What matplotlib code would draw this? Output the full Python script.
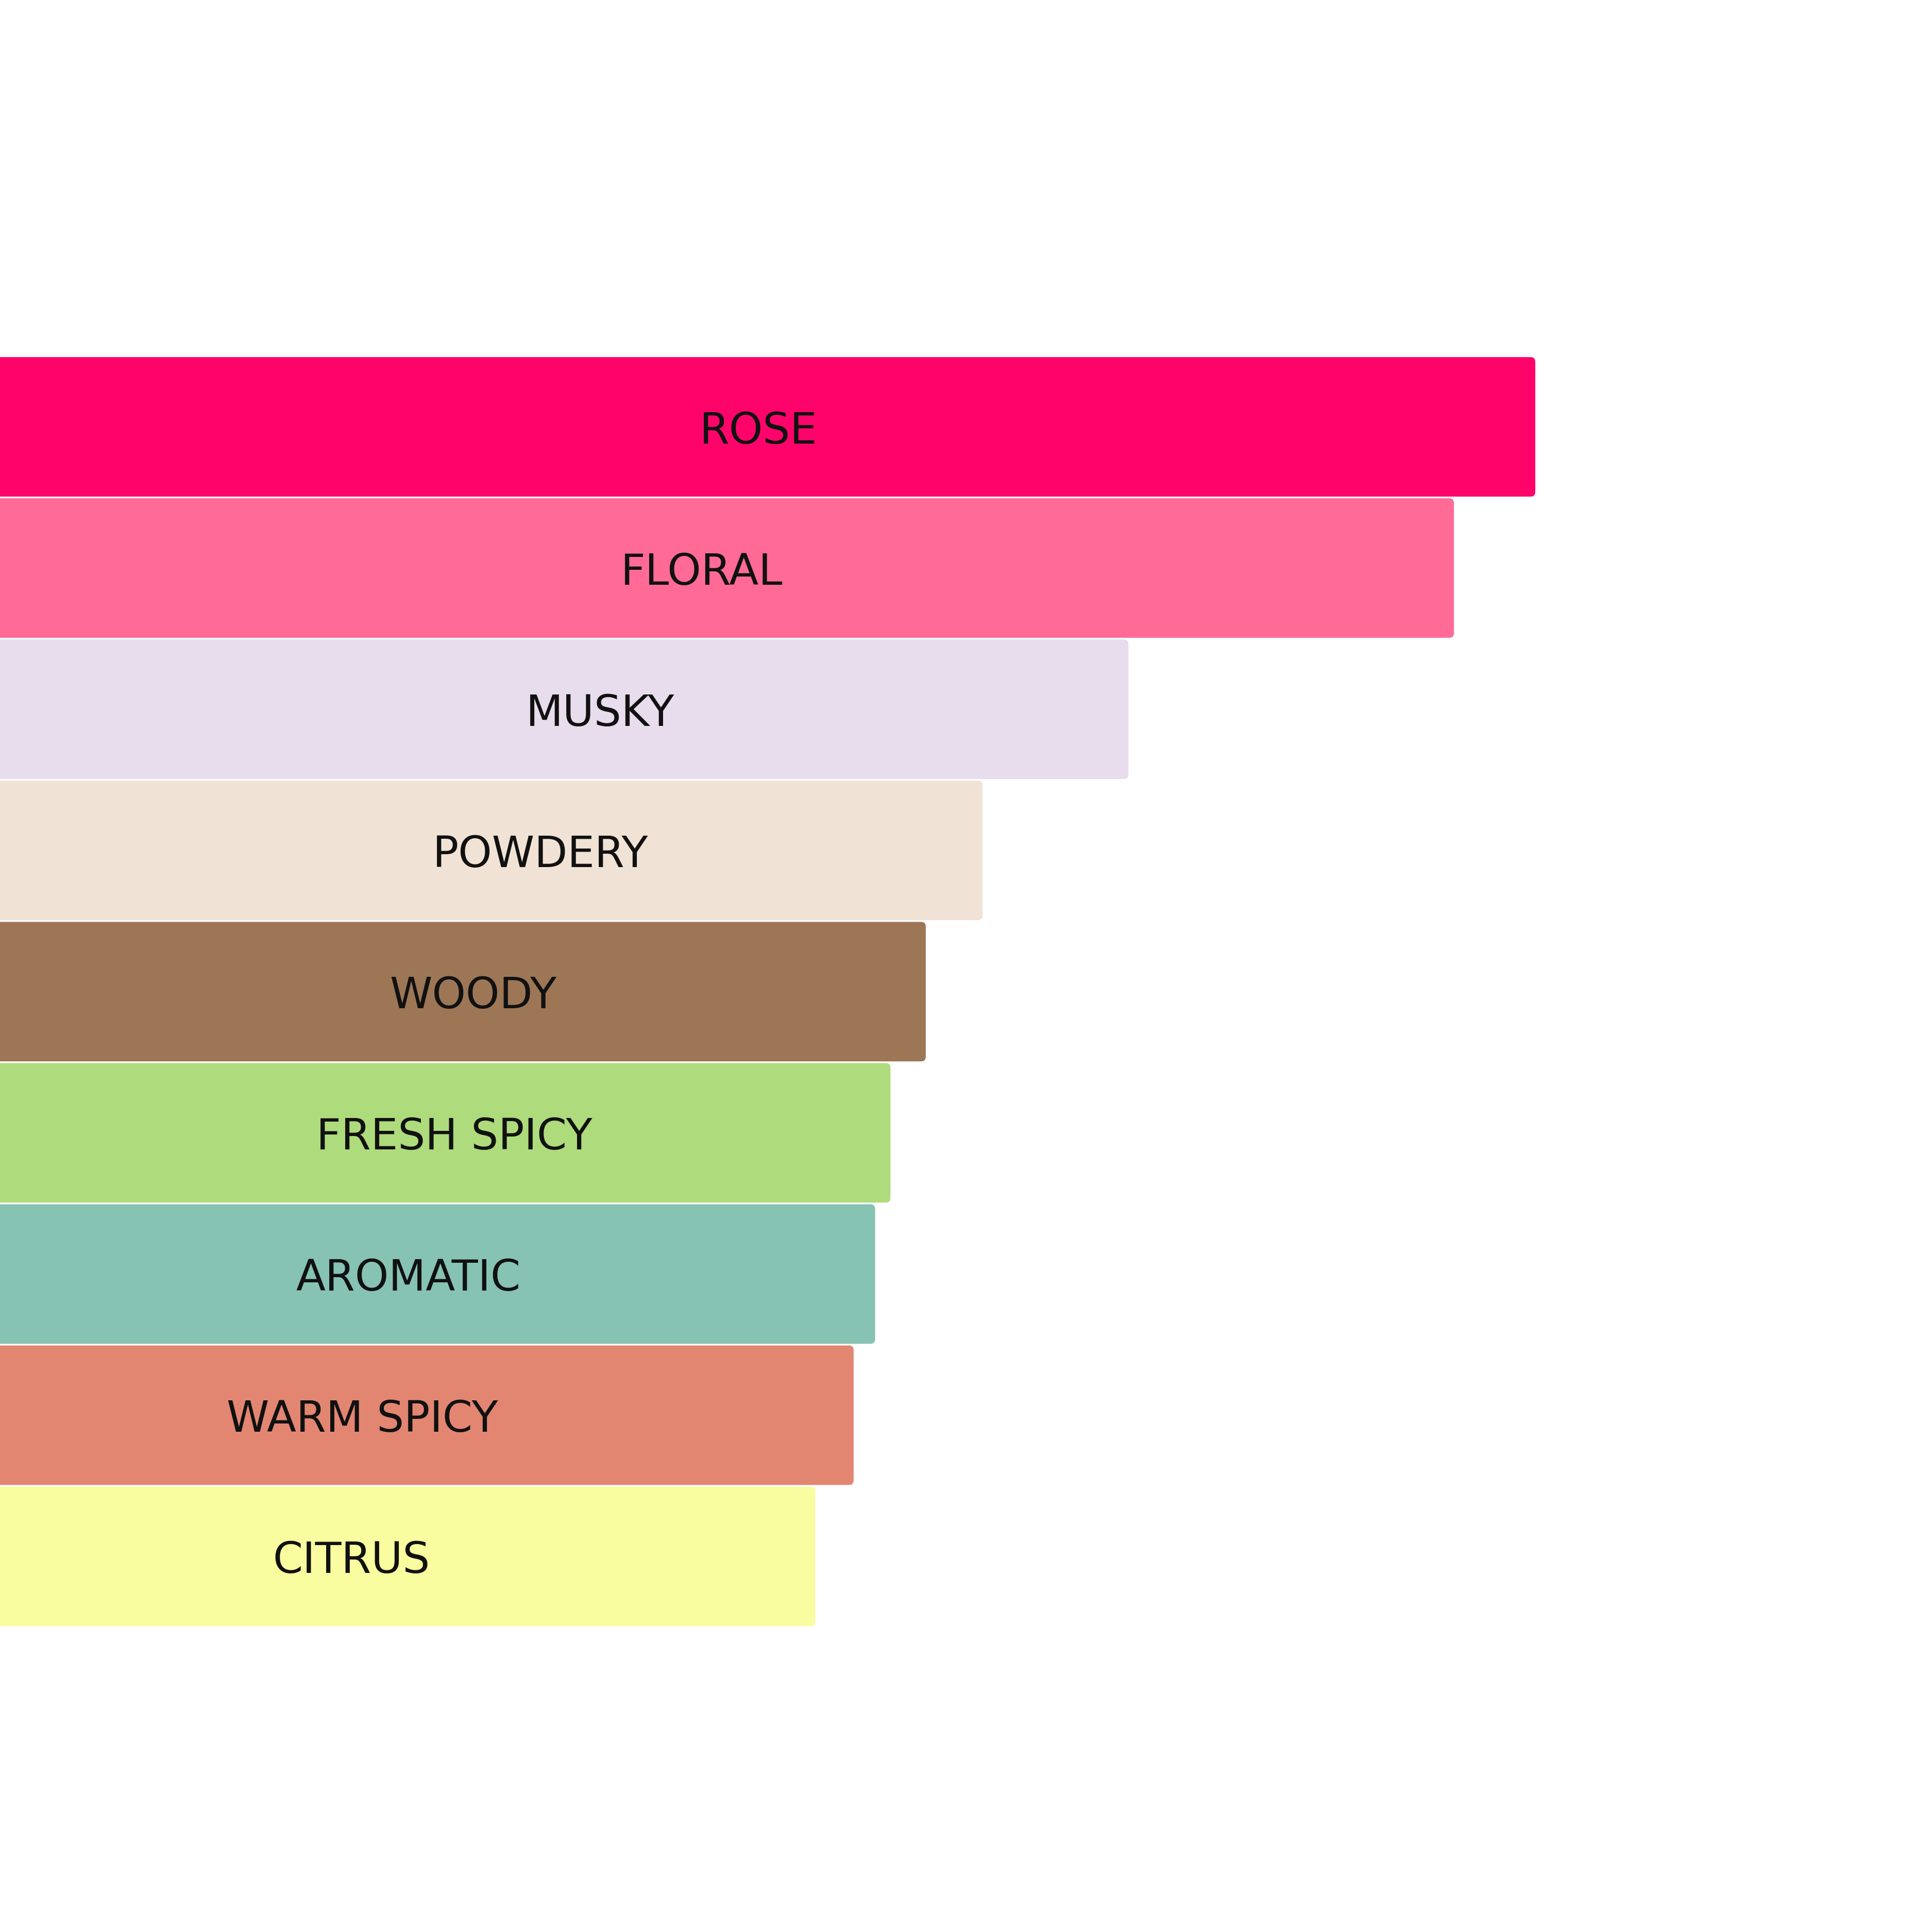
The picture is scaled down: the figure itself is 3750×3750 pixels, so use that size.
import matplotlib
matplotlib.use("Agg")
import matplotlib.pyplot as plt
from matplotlib.patches import FancyBboxPatch

# ---- data ----
accords = ["ROSE", "FLORAL", "MUSKY", "POWDERY", "WOODY",
           "FRESH SPICY", "AROMATIC", "WARM SPICY", "CITRUS"]
values = [100.0, 94.7, 73.5, 64.0, 60.3, 58.0, 57.0, 55.6, 53.1]
colors = ["#FE046A", "#FF6B96", "#E8DDEC", "#F0E3D6", "#9D7656",
          "#AEDB7C", "#86C3B2", "#E28672", "#F9FC9F"]
label_x = [49.4, 45.7, 39.1, 35.2, 30.8, 29.6, 26.6, 23.6, 22.9]

# ---- layout ----
W = H = 3750
dpi = 100
fig = plt.figure(figsize=(W / dpi, H / dpi), dpi=dpi)
fig.patch.set_facecolor("white")
ax = fig.add_axes([0, 0, 1, 1])
ax.set_axis_off()

px_per_unit_x = 29.8          # pixels per value unit
pitch = 274.06                # pixels per bar slot
first_center = 828.5          # pixel y of first bar centre
ax.set_xlim(0, W / px_per_unit_x)
ax.set_ylim((H - first_center) / pitch, -first_center / pitch)

bar_h = 0.988
radius_px = 9
rx = radius_px / px_per_unit_x
ry = radius_px / pitch
left = -2.0
baseline_off = 32.5 / pitch

for i, (name, v, c, lx) in enumerate(zip(accords, values, colors, label_x)):
    y0 = i - bar_h / 2
    patch = FancyBboxPatch((left, y0), v - left, bar_h,
                           boxstyle=f"round,pad=0,rounding_size={rx}",
                           mutation_aspect=ry / rx,
                           facecolor=c, edgecolor="none", linewidth=0)
    ax.add_patch(patch)
    ax.text(lx, i + baseline_off, name, ha="center", va="baseline",
            fontsize=60, family="DejaVu Sans", color="#111111")

fig.savefig("out.png", dpi=dpi, facecolor="white")
